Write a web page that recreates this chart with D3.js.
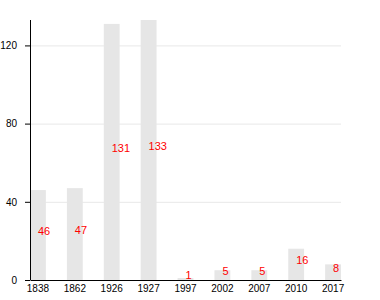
<!DOCTYPE html>
<html>
<head>
<meta charset="utf-8">
<script src="https://cdn.jsdelivr.net/npm/d3@7"></script>
<style>
  body { margin: 0; background: #fff; }
  svg { font-family: Arial, "Liberation Sans", sans-serif; }
</style>
</head>
<body>
<svg width="380" height="300"></svg>
<script>
;(function (d3) {
  var years = ['1838', '1862', '1926', '1927', '1997', '2002', '2007', '2010', '2017']
  var counts = [46, 47, 131, 133, 1, 5, 5, 16, 8]
  var yTicks = [0, 40, 80, 120]

  var data = years.map(function (y, i) {
    return {year: y, value: counts[i]}
  })

  var svg = d3.select('svg')
  var left = 30
  var right = 341
  var top = 20
  var bottom = 280

  var x = d3.scaleBand()
    .domain(years)
    .range([left, right])
    .paddingInner(0.57)
    .paddingOuter(0)

  var y = d3.scaleLinear()
    .domain([0, d3.max(counts)])
    .range([bottom, top])

  // grid
  svg.append('g')
    .selectAll('line')
    .data(yTicks.slice(1))
    .enter()
    .append('line')
    .attr('x1', left)
    .attr('x2', right)
    .attr('y1', function (d) { return y(d) + 0.5 })
    .attr('y2', function (d) { return y(d) + 0.5 })
    .style('stroke', '#e8e8e8')

  svg.append('g')
    .selectAll('rect')
    .data(data)
    .enter()
    .append('rect')
    .attr('x', function (d) { return x(d.year) })
    .attr('y', function (d) { return y(d.value) })
    .attr('width', x.bandwidth())
    .attr('height', function (d) { return bottom - y(d.value) })
    .style('fill', '#e6e6e6')

  svg.append('g')
    .selectAll('text')
    .data(data)
    .enter()
    .append('text')
    .attr('x', function (d) { return x(d.year) + x.bandwidth() / 2 })
    .attr('y', function (d) { return (y(d.value) + bottom) / 2 })
    .style('fill', 'red')
    .style('font-size', '11px')
    .text(function (d) { return d.value })

  var xAxis = svg.append('g')
    .attr('transform', 'translate(0,' + bottom + ')')
    .call(d3.axisBottom(x).tickSize(0).tickPadding(5))
  xAxis.selectAll('text').style('font-size', '10px').style('fill', '#000')

  var yAxis = svg.append('g')
    .attr('transform', 'translate(' + left + ',0)')
    .call(d3.axisLeft(y).tickValues(yTicks).tickSizeInner(5).tickSizeOuter(0).tickPadding(8))
  yAxis.selectAll('text').style('font-size', '10px').style('fill', '#000')
  yAxis.select('.domain').attr('d', 'M0.5,' + top + 'V' + bottom)
})(window.d3)
</script>
</body>
</html>
